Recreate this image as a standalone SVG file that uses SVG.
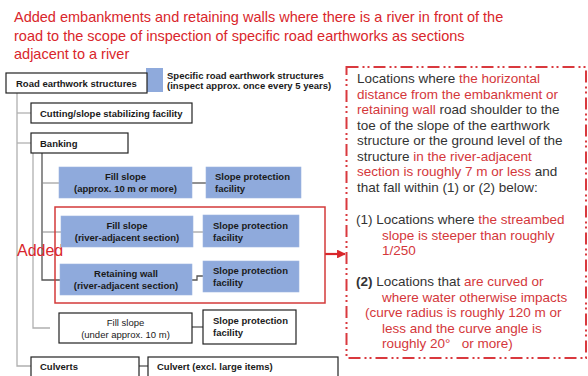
<svg xmlns="http://www.w3.org/2000/svg" width="588" height="376" viewBox="0 0 588 376">
<defs>
<marker id="arr" viewBox="0 0 10 10" refX="9" refY="5" markerWidth="4" markerHeight="4" orient="auto" markerUnits="strokeWidth">
<path d="M0,0 L10,5 L0,10 z" fill="#d9262b"/>
</marker>
<style>
.title{font-family:"Liberation Sans",Arial,sans-serif;font-size:14.5px;fill:#d9262b}
.bx{font-family:"Liberation Sans",Arial,sans-serif;font-size:9.5px;font-weight:bold;fill:#1a1a1a}
.bxn{font-family:"Liberation Sans",Arial,sans-serif;font-size:9.5px;fill:#1a1a1a}
.wb{fill:#fff;stroke:#222;stroke-width:1.2}
.bb{fill:#8faadc;stroke:#9fb6e0;stroke-width:0.6}
.c1{fill:none;stroke:#b0b0b0;stroke-width:1.3}
.c2{fill:none;stroke:#555;stroke-width:1.3}
.c3{fill:none;stroke:#888;stroke-width:1}
.rt{font-family:"Liberation Sans",Arial,sans-serif;font-size:13.5px;fill:#333}
.r{fill:#d4373b}
</style>
</defs>
<rect width="588" height="376" fill="#fff"/>
<g id="title">
<text class="title" x="14" y="22">Added embankments and retaining walls where there is a river in front of the</text>
<text class="title" x="14" y="41">road to the scope of inspection of specific road earthworks as sections</text>
<text class="title" x="14" y="59">adjacent to a river</text>
</g>
<g id="connectors">
<path class="c1" d="M17,93 V366 H31"/>
<path class="c1" d="M17,113 H31"/>
<path class="c1" d="M17,143 H31"/>
<path class="c1" d="M33,153 V328 H50"/>
<path class="c2" d="M42,153 V280 H60"/>
<path class="c3" d="M42,183 H59"/>
<path class="c3" d="M42,232 H61"/>
<path class="c2" d="M192,183 H206"/>
<path class="c3" d="M193,232 H203"/>
<path class="c2" d="M192,280 H197 V276 H203"/>
<path class="c2" d="M192,327 H203"/>
<path class="c2" d="M139,366 H148"/>
<line x1="325" y1="254" x2="345" y2="254" stroke="#d9262b" stroke-width="2.2" marker-end="url(#arr)"/>
</g>
<g id="legend">
<rect x="146" y="68" width="17" height="24" fill="#8faadc"/>
<text class="bx" x="167" y="79" font-size="9">Specific road earthwork structures</text>
<text class="bx" x="167" y="89" font-size="9">(inspect approx. once every 5 years)</text>
</g>
<g id="road-earthwork">
<rect class="wb" x="6" y="73" width="141" height="20"/>
<text class="bx" x="16" y="87">Road earthwork structures</text>
</g>
<g id="cutting">
<rect class="wb" x="31" y="103" width="161" height="20"/>
<text class="bx" x="40" y="117">Cutting/slope stabilizing facility</text>
</g>
<g id="banking">
<rect class="wb" x="31" y="133" width="97" height="20"/>
<text class="bx" x="40" y="147">Banking</text>
</g>
<g id="fill-10m">
<rect class="bb" x="59" y="167" width="133" height="31"/>
<text class="bx" x="125.5" y="180" text-anchor="middle">Fill slope</text>
<text class="bx" x="125.5" y="192" text-anchor="middle">(approx. 10 m or more)</text>
</g>
<g id="slope-prot-1">
<rect class="bb" x="206" y="167" width="95" height="31"/>
<text class="bx" x="215" y="180">Slope protection</text>
<text class="bx" x="215" y="192">facility</text>
</g>
<g id="added-group">
<rect x="55" y="207" width="270" height="96" fill="none" stroke="#d33a3a" stroke-width="1.5"/>
<text x="17" y="256" font-family="'Liberation Sans',Arial,sans-serif" font-size="16" fill="#d9262b">Added</text>
</g>
<g id="fill-river">
<rect class="bb" x="61" y="216" width="132" height="31"/>
<text class="bx" x="127" y="229" text-anchor="middle">Fill slope</text>
<text class="bx" x="127" y="241" text-anchor="middle">(river-adjacent section)</text>
</g>
<g id="slope-prot-2">
<rect class="bb" x="203" y="215" width="96" height="32"/>
<text class="bx" x="213" y="229">Slope protection</text>
<text class="bx" x="213" y="241">facility</text>
</g>
<g id="retaining-wall">
<rect class="bb" x="60" y="264" width="132" height="31"/>
<text class="bx" x="126" y="277" text-anchor="middle">Retaining wall</text>
<text class="bx" x="126" y="289" text-anchor="middle">(river-adjacent section)</text>
</g>
<g id="slope-prot-3">
<rect class="bb" x="203" y="261" width="96" height="31"/>
<text class="bx" x="213" y="274">Slope protection</text>
<text class="bx" x="213" y="286">facility</text>
</g>
<g id="fill-under">
<rect class="wb" x="59" y="313" width="133" height="30"/>
<text class="bxn" x="125.5" y="325.5" text-anchor="middle" font-size="10">Fill slope</text>
<text class="bxn" x="125.5" y="337.5" text-anchor="middle" font-size="10">(under approx. 10 m)</text>
</g>
<g id="slope-prot-4">
<rect class="wb" x="203" y="310" width="93" height="34"/>
<text class="bx" x="213" y="324">Slope protection</text>
<text class="bx" x="213" y="336">facility</text>
</g>
<g id="culverts">
<rect class="wb" x="31" y="357" width="108" height="30"/>
<text class="bx" x="40" y="370">Culverts</text>
</g>
<g id="culvert-excl">
<rect class="wb" x="148" y="357" width="190" height="30"/>
<text class="bx" x="157" y="370">Culvert (excl. large items)</text>
</g>
<g id="conditions">
<rect x="346.5" y="67" width="239.5" height="291" fill="none" stroke="#d9393e" stroke-width="2" stroke-dasharray="12 4 2 3 2 4"/>
<text class="rt" x="357" y="83">Locations where <tspan class="r">the horizontal</tspan></text>
<text class="rt" x="357" y="98.5"><tspan class="r">distance from the embankment or</tspan></text>
<text class="rt" x="357" y="114"><tspan class="r">retaining wall</tspan> road shoulder to the</text>
<text class="rt" x="357" y="129.5">toe of the slope of the earthwork</text>
<text class="rt" x="357" y="145">structure or the ground level of the</text>
<text class="rt" x="357" y="160.5">structure <tspan class="r">in the river-adjacent</tspan></text>
<text class="rt" x="357" y="176"><tspan class="r">section is roughly 7 m or less</tspan> and</text>
<text class="rt" x="357" y="191.5">that fall within (1) or (2) below:</text>
<text class="rt" x="356" y="224">(1) Locations where <tspan class="r">the streambed</tspan></text>
<text class="rt r" x="382" y="239.5">slope is steeper than roughly</text>
<text class="rt r" x="382" y="255">1/250</text>
<text class="rt" x="356" y="286"><tspan font-weight="bold">(2)</tspan> Locations that <tspan class="r">are curved or</tspan></text>
<text class="rt r" x="382" y="301.5">where water otherwise impacts</text>
<text class="rt r" x="365" y="317">(curve radius is roughly 120 m or</text>
<text class="rt r" x="382" y="332.5">less and the curve angle is</text>
<text class="rt r" x="382" y="348" xml:space="preserve">roughly 20°   or more)</text>
</g>
</svg>
